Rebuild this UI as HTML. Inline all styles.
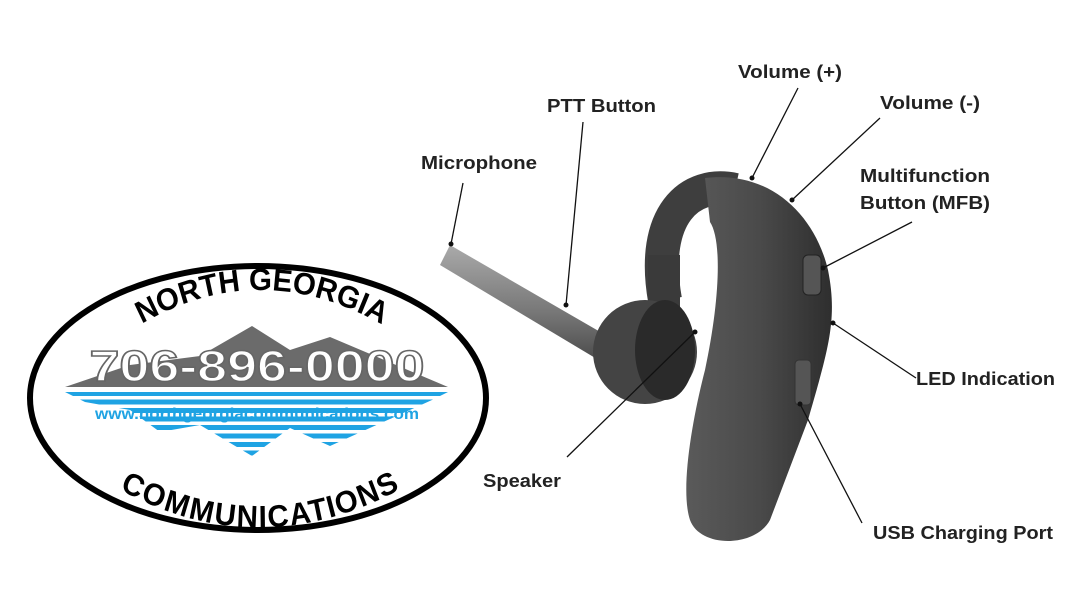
<!DOCTYPE html>
<html><head><meta charset="utf-8"><style>body{margin:0;background:#fff}svg{display:block}text{font-family:"Liberation Sans",sans-serif}</style></head><body>
<svg width="1080" height="608" viewBox="0 0 1080 608" xmlns="http://www.w3.org/2000/svg">
<defs>
<pattern id="st" width="10" height="8.5" patternUnits="userSpaceOnUse"><rect width="10" height="5" fill="#1fa3e3"/></pattern>
<linearGradient id="bg" x1="0" y1="0" x2="1" y2="0"><stop offset="0" stop-color="#5a5a5a"/><stop offset=".5" stop-color="#4a4a4a"/><stop offset="1" stop-color="#2e2e2e"/></linearGradient>
<linearGradient id="boom" x1="0" y1="0" x2="0" y2="1"><stop offset="0" stop-color="#aaa"/><stop offset=".5" stop-color="#777"/><stop offset="1" stop-color="#3a3a3a"/></linearGradient>
<path id="topArc" d="M 95,350 Q 258,230 430,350"/>
<path id="botArc" d="M 90,452 Q 258,560 430,452"/>
</defs>
<ellipse cx="258" cy="398" rx="228" ry="132" fill="#fff" stroke="#000" stroke-width="6"/>
<text font-size="31" font-weight="bold" transform="translate(258 0) scale(0.95 1) translate(-258 0)"><textPath href="#topArc" startOffset="50%" text-anchor="middle">NORTH  GEORGIA</textPath></text>
<text font-size="31" font-weight="bold" transform="translate(258 0) scale(0.95 1) translate(-258 0)"><textPath href="#botArc" startOffset="50%" text-anchor="middle" dominant-baseline="hanging">COMMUNICATIONS</textPath></text>
<polygon points="65,387 130,365 200,356 252,326 290,350 330,337 448,387" fill="#6b6b6b"/>
<polygon points="65,392 448,392 432,400 330,446 290,428 252,456 200,425 160,432 130,410 85,402" fill="url(#st)"/>
<text x="257" y="381" font-size="44" font-weight="bold" fill="#fff" stroke="#666" stroke-width="1.5" text-anchor="middle" textLength="335" lengthAdjust="spacingAndGlyphs">706-896-0000</text>
<text x="257" y="419" font-size="16" font-weight="bold" fill="#1fa3e3" text-anchor="middle" textLength="324" lengthAdjust="spacingAndGlyphs">www.northgeorgiacommunications.com</text>
<path d="M 665,300 C 650,215 690,180 735,190" fill="none" stroke="#3e3e3e" stroke-width="34"/>
<path d="M 705,178 C 770,170 815,215 828,270 C 838,320 828,350 808,420 L 770,520 C 755,548 700,548 690,520 C 680,490 692,420 705,370 C 720,300 722,240 710,222 Z" fill="url(#bg)"/>
<rect x="648" y="255" width="32" height="55" fill="#3a3a3a"/>
<path d="M 450,245 L 640,355 L 632,380 L 440,265 Z" fill="url(#boom)"/>
<circle cx="645" cy="352" r="52" fill="#444"/>
<ellipse cx="665" cy="350" rx="30" ry="50" fill="#2a2a2a"/>
<rect x="803" y="255" width="18" height="40" rx="5" fill="#555" stroke="#222"/>
<rect x="795" y="360" width="16" height="45" rx="4" fill="#555" stroke="#333"/>
<g stroke="#111" stroke-width="1.3" fill="none">
<line x1="463" y1="183" x2="451" y2="244"/><line x1="583" y1="122" x2="566" y2="305"/>
<line x1="798" y1="88" x2="752" y2="178"/><line x1="880" y1="118" x2="792" y2="200"/>
<line x1="912" y1="222" x2="823" y2="268"/><line x1="916" y1="378" x2="833" y2="323"/>
<line x1="567" y1="457" x2="695" y2="332"/><line x1="862" y1="523" x2="800" y2="404"/>
</g>
<g fill="#111"><circle cx="451" cy="244" r="2.5"/><circle cx="566" cy="305" r="2.5"/><circle cx="752" cy="178" r="2.5"/><circle cx="792" cy="200" r="2.5"/><circle cx="823" cy="268" r="2.5"/><circle cx="833" cy="323" r="2.5"/><circle cx="695" cy="332" r="2.5"/><circle cx="800" cy="404" r="2.5"/></g>
<g font-size="18" font-weight="bold" fill="#222">
<text x="738" y="78" textLength="104" lengthAdjust="spacingAndGlyphs">Volume (+)</text>
<text x="547" y="112" textLength="109" lengthAdjust="spacingAndGlyphs">PTT Button</text>
<text x="880" y="109" textLength="100" lengthAdjust="spacingAndGlyphs">Volume (-)</text>
<text x="421" y="169" textLength="116" lengthAdjust="spacingAndGlyphs">Microphone</text>
<text x="860" y="182" textLength="130" lengthAdjust="spacingAndGlyphs">Multifunction</text>
<text x="860" y="209" textLength="130" lengthAdjust="spacingAndGlyphs">Button (MFB)</text>
<text x="916" y="385" textLength="139" lengthAdjust="spacingAndGlyphs">LED Indication</text>
<text x="483" y="487" textLength="78" lengthAdjust="spacingAndGlyphs">Speaker</text>
<text x="873" y="539" textLength="180" lengthAdjust="spacingAndGlyphs">USB Charging Port</text>
</g>
</svg>
</body></html>
